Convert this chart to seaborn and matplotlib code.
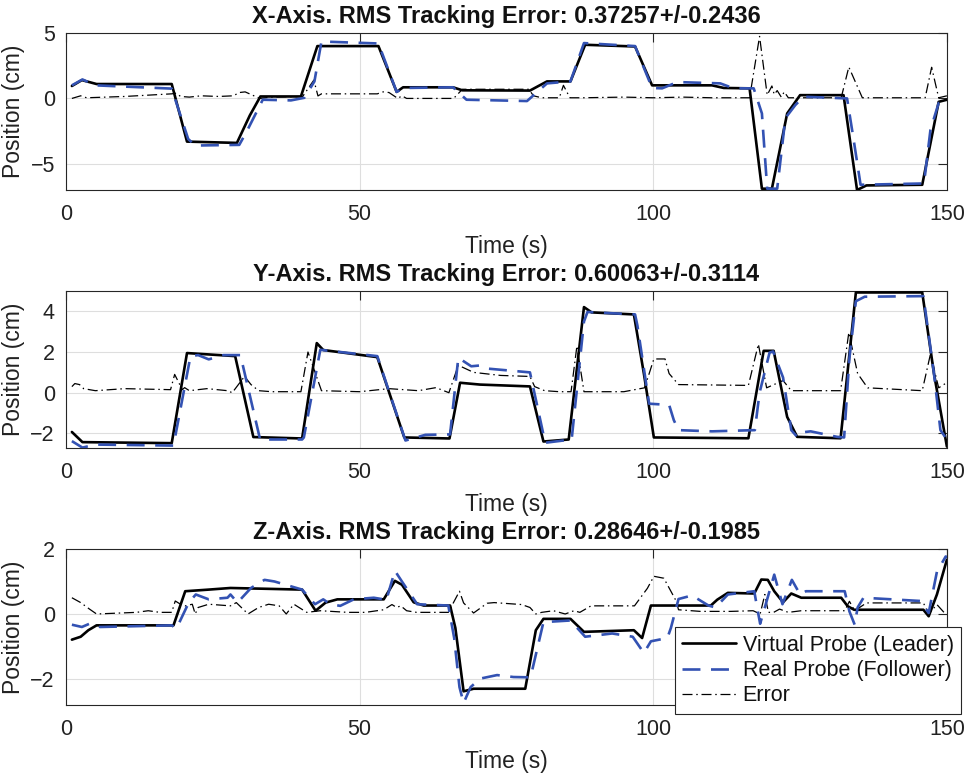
import numpy as np
import pandas as pd
import matplotlib
matplotlib.use("Agg")
import matplotlib.pyplot as plt
import seaborn as sns

# ---------------- data ----------------
x_lead_t = [1, 2.7, 5.2, 18.0, 20.6, 29.1, 31.3, 33.1, 40.0, 42.8, 53.2, 56.3, 57.4, 65.9, 67.5, 79.0, 81.9, 85.9,
            88.4, 96.9, 99.8, 110.0, 112.0, 116.4, 118.5, 120.2, 122.8, 125.0, 132.4, 134.7, 136.3, 145.8, 148.6, 150]
x_lead = [0.95, 1.4, 1.1, 1.1, -3.3, -3.4, -1.3, 0.15, 0.15, 4.0, 4.0, 0.5, 0.85, 0.85, 0.62, 0.6, 1.3, 1.3,
          4.1, 3.97, 1.0, 1.0, 0.8, 0.77, -6.9, -6.9, -1.15, 0.25, 0.25, -7.0, -6.65, -6.6, -0.26, -0.1]

x_fol_t = [1, 2.8, 5.0, 18.0, 20.8, 22.0, 29.5, 30.8, 33.5, 38.3, 40.6, 42.3, 43.5, 53.2, 56.3, 57.6, 65.9, 68.2,
           78.5, 81.9, 85.9, 88.2, 96.9, 99.8, 101.5, 104.1, 111.4, 113.7, 117.1, 118.5, 119.4, 121.1, 122.5,
           124.2, 125.6, 133.0, 134.1, 135.3, 146.1, 147.2, 148.6, 150]
x_fol = [1.0, 1.45, 1.0, 0.75, -3.1, -3.6, -3.55, -2.5, -0.1, -0.15, 0.05, 1.3, 4.35, 4.2, 0.5, 0.8, 0.85, -0.1,
         -0.2, 1.15, 1.3, 4.23, 4.0, 0.8, 0.77, 1.25, 1.15, 0.77, 0.77, -1.15, -6.9, -6.9, -1.5,
         -0.5, 0.13, 0.0, -3.1, -6.6, -6.5, -2.4, -0.35, -0.3]

x_err_t = [1, 2.5, 3.5, 10, 18, 18.8, 19.5, 21, 23, 26, 28.5, 29.5, 30.5, 32, 33, 35, 40.3, 42.2, 42.9, 43.5, 53,
           54, 55, 56.5, 57.2, 58, 59, 66, 67.5, 78.8, 79.6, 81, 84.0, 84.7, 85.8, 88, 95, 100, 105, 110, 116.4,
           118.1, 119.4, 120.2, 120.6, 121.1, 121.8, 122.3, 123.0, 125, 132.0, 133.3, 135.6, 146.3, 147.4,
           148.6, 150]
x_err = [0.0, 0.2, 0.05, 0.15, 0.35, 0.4, 0.15, 0.1, 0.2, 0.15, 0.2, 0.45, 0.5, 0.2, 0.0, 0.1, 0.15, 1.4, 0.19,
         0.35, 0.35, 0.5, 0.45, 0.0, 0.2, 0.0, 0.0, 0.0, 0.7, 0.7, 0.2, 0.05, 0.05, 1.0, 0.05, 0.05, 0.1, 0.05,
         0.1, 0.05, 0.05, 4.74, 0.26, 0.95, 0.3, 0.6, 0.1, 0.5, 0.05, 0.05, 0.05, 2.4, 0.05, 0.05, 2.38,
         0.05, 0.2]

y_lead_t = [1, 2.8, 18.0, 20.6, 28.8, 31.9, 40.2, 42.7, 43.8, 53.0, 57.6, 65.3, 67.1, 70.5, 79.0, 81.3, 85.6,
            88.2, 89.5, 96.7, 98.4, 100.1, 116.2, 118.8, 120.5, 122.8, 124.5, 131.9, 134.5, 145.8, 147.8, 150]
y_lead = [-1.93, -2.43, -2.48, 1.95, 1.8, -2.18, -2.25, 2.44, 2.1, 1.75, -2.2, -2.25, 0.49, 0.4, 0.31, -2.4,
          -2.3, 4.21, 3.95, 3.85, 0.94, -2.2, -2.24, 2.06, 2.06, -1.19, -2.17, -2.24, 4.93, 4.93, 0.94, -2.65]

y_fol_t = [1, 2.8, 5.0, 18.3, 21.2, 22.5, 24.3, 26.8, 29.7, 33.05, 40.2, 40.5, 43.3, 53.0, 57.8, 61.2, 65.4,
           66.8, 69.0, 70.5, 72.0, 79.0, 81.6, 86.1, 88.2, 88.8, 96.9, 97.3, 99.3, 102.7, 103.5, 104.3, 110,
           117.3, 118.1, 119.8, 120.4, 122.1, 123.5, 124.5, 125.3, 126.8, 131.3, 132.5, 133.4, 134.5, 136.0,
           146.0, 147.8, 148.9, 150]
y_fol = [-2.38, -2.7, -2.55, -2.6, 1.8, 1.85, 1.64, 1.85, 1.85, -2.3, -2.3, -2.2, 2.11, 1.8, -2.35, -2.07, -2.05,
         1.72, 1.3, 1.34, 1.18, 1.0, -2.46, -2.3, 3.5, 3.97, 3.85, 3.3, -0.54, -0.6, -1.35, -1.84, -1.9,
         -1.84, 0.0, 1.97, 2.03, 0.75, -1.84, -2.17, -1.95, -1.9, -2.17, -2.2, 1.7, 4.5, 4.72,
         4.75, 0.94, -1.84, -2.3]

y_err_t = [1, 1.5, 2.3, 3.0, 5.0, 10, 17.8, 18.5, 19.8, 20.2, 21.0, 24, 27.5, 28.3, 30.4, 31.5, 32.8, 35, 40.0,
           41.2, 43.5, 50, 55, 60, 63, 65.2, 66.8, 69.4, 74, 79.0, 79.8, 81.5, 84, 86.0, 87.0, 88.2, 95, 98.5,
           99.1, 100.1, 102.0, 102.7, 104.3, 116.2, 117.9, 119.3, 122.1, 123.5, 125, 131.9, 133.3, 134.8,
           136.5, 145.8, 147.2, 148.6, 150]
y_err = [0.3, 0.45, 0.4, 0.2, 0.1, 0.2, 0.15, 0.9, 0.15, 0.25, 0.1, 0.2, 0.1, 0.0, 0.8, 0.4, 0.1, 0.05, 0.05,
         2.0, 0.1, 0.05, 0.2, 0.1, 0.25, 0.0, 1.35, 1.0, 0.85, 0.8, 0.3, 0.1, 0.05, 0.05, 2.3, 0.05, 0.05, 0.24,
         0.76, 1.66, 1.66, 0.94, 0.4, 0.36, 2.39, 0.24, 0.6, 0.1, 0.1, 0.1, 2.96, 0.94,
         0.24, 0.1, 1.9, 0.24, 0.5]

z_lead_t = [1, 2.5, 3.8, 5.2, 18.3, 20.3, 24.3, 28.0, 40.2, 42.5, 44.2, 46.2, 54.1, 56.0, 57.2, 59.2, 60.9, 65.4,
            66.3, 67.7, 69.4, 78.2, 80.0, 81.3, 85.9, 88.2, 96.7, 98.1, 99.6, 109.8, 110.9, 112.7, 117.2, 118.4,
            119.5, 120.6, 122.1, 123.5, 125.2, 132.0, 133.1, 134.2, 146.0, 146.9, 148.3, 150]
z_lead = [-0.79, -0.7, -0.5, -0.35, -0.35, 0.7, 0.75, 0.8, 0.75, 0.1, 0.35, 0.45, 0.45, 1.02, 0.9, 0.36, 0.26,
          0.26, -0.43, -2.38, -2.3, -2.3, -0.5, -0.15, -0.15, -0.55, -0.5, -0.74, 0.26, 0.26, 0.44, 0.65, 0.63,
          1.06, 1.05, 0.7, 0.36, 0.63, 0.5, 0.5, 0.24, 0.13, 0.13, -0.07, 0.6, 1.67]

z_fol_t = [1, 2.7, 4.0, 5.8, 18.0, 18.8, 20.9, 22.1, 24.3, 27.5, 28.0, 29.2, 31.5, 33.8, 35.5, 40.2, 42.4, 43.8,
           45.0, 46.7, 49.0, 52.4, 54.1, 54.5, 56.0, 57.2, 59.8, 65.1, 66.1, 67.0, 67.7, 68.9, 70.5, 73.4, 76.2,
           79.1, 81.3, 85.9, 88.4, 93.0, 96.5, 98.4, 99.6, 102.4, 103.0, 104.3, 106.6, 109.4, 110.6, 112.7,
           117.2, 117.7, 118.2, 120.6, 122.0, 123.6, 125.0, 126, 132.6, 133.4, 134.3, 134.8, 135.8, 145.5,
           146.9, 148.3, 149.8, 150]
z_fol = [-0.33, -0.4, -0.3, -0.4, -0.35, -0.45, 0.35, 0.6, 0.45, 0.5, 0.6, 0.35, 0.8, 1.05, 1.0, 0.75, 0.3, 0.45,
         0.3, 0.25, 0.45, 0.5, 0.45, 0.4, 1.33, 1.0, 0.3, 0.26, -0.74, -2.25, -2.74, -2.25, -1.99, -1.88, -1.94,
         -1.95, -0.25, -0.2, -0.7, -0.6, -0.7, -1.2, -0.84, -0.74, -0.43, 0.46, 0.57, 0.26, 0.2, 0.6,
         0.7, 0.18, -0.3, 1.21, 0.3, 1.05, 0.6, 0.7, 0.7, 0.08, -0.33, 0.2, 0.5, 0.4,
         0.03, 1.3, 1.77, 1.75]

z_err_t = [1, 2.5, 4.0, 5.2, 12, 14, 16, 18.0, 18.6, 19.5, 20.3, 21.5, 22.0, 22.5, 24.3, 28.0, 29.0, 31.0, 32.8,
           34.5, 36.3, 37.5, 38.8, 41.0, 43.3, 48, 51, 54.1, 55.5, 56.3, 57.0, 58.0, 59.7, 65.1, 67.0, 67.7, 69.4,
           71.7, 72.9, 77.6, 79.0, 80.0, 81.0, 83, 85, 86.5, 87.5, 89.4, 96.8, 99.0, 100.1, 101.8, 102.7, 103.9,
           104.3, 108.0, 113.2, 117.0, 118.2, 119.0, 119.6, 120.5, 121.5, 123.0, 125.2, 132.6, 133.4, 134.3,
           136.3, 146.0, 146.9, 148.3, 149.5, 150]
z_err = [0.5, 0.35, 0.15, 0.0, 0.05, 0.1, 0.05, 0.05, 0.4, 0.3, 0.25, 0.3, 0.0, 0.2, 0.3, 0.25, 0.35, 0.0, 0.2,
         0.3, 0.25, 0.0, 0.3, 0.05, 0.1, 0.05, 0.05, 0.13, 0.29, 0.2, 0.25, 0.1, 0.05, 0.05, 0.7, 0.34, 0.03,
         0.33, 0.35, 0.29, 0.2, 0.0, 0.05, 0.1, 0.0, 0.1, 0.05, 0.25, 0.25, 0.79, 1.16, 1.1, 0.8, 0.4,
         0.13, 0.08, 0.08, 0.1, 0.0, 0.6, 0.05, 0.05, 0.15, 0.05, 0.1, 0.1, 0.39, 0.1,
         0.34, 0.34, 0.0, 0.29, 0.05, 0.02]

titles = ["X-Axis. RMS Tracking Error: 0.37257+/-0.2436",
          "Y-Axis. RMS Tracking Error: 0.60063+/-0.3114",
          "Z-Axis. RMS Tracking Error: 0.28646+/-0.1985"]
series_labels = ["Virtual Probe (Leader)", "Real Probe (Follower)", "Error"]
x_ticks = [0, 50, 100, 150]
y_ticks = [[-5, 0, 5], [-2, 0, 2, 4], [-2, 0, 2]]
y_limits = [(-7, 5), (-2.72, 5), (-2.8, 2)]

# ---------------- style ----------------
sns.set_theme(style="white")
plt.rcParams['font.family'] = ['Liberation Sans', 'DejaVu Sans']
plt.rcParams['axes.edgecolor'] = '#262626'
plt.rcParams['axes.linewidth'] = 0.8
plt.rcParams['text.color'] = '#111111'

BLUE = '#3352b3'
DARK = '#262626'

fig = plt.figure(figsize=(9.68, 7.73), dpi=100)
positions = [[0.0682, 0.7542, 0.9100, 0.2031],
             [0.0682, 0.4204, 0.9100, 0.2031],
             [0.0682, 0.0880, 0.9100, 0.2018]]

datasets = [(x_lead_t, x_lead, x_fol_t, x_fol, x_err_t, x_err),
            (y_lead_t, y_lead, y_fol_t, y_fol, y_err_t, y_err),
            (z_lead_t, z_lead, z_fol_t, z_fol, z_err_t, z_err)]

axes = []
for i, (lt, lv, ft, fv, et, ev) in enumerate(datasets):
    ax = fig.add_axes(positions[i])
    axes.append(ax)
    lbl = (i == 2)
    sns.lineplot(x=et, y=ev, ax=ax, color='black', linewidth=0.9, errorbar=None,
                 linestyle=(0, (8, 3, 1.2, 3)), label=series_labels[2] if lbl else None, zorder=2)
    sns.lineplot(x=lt, y=lv, ax=ax, color='black', linewidth=1.9, errorbar=None,
                 label=series_labels[0] if lbl else None, zorder=3)
    sns.lineplot(x=ft, y=fv, ax=ax, color=BLUE, linewidth=1.9, errorbar=None,
                 linestyle=(0, (6.8, 4)), label=series_labels[1] if lbl else None, zorder=4)
    ax.set_xlim(0, 150)
    ax.set_ylim(*y_limits[i])
    ax.set_xticks(x_ticks)
    ax.set_yticks(y_ticks[i])
    ax.grid(True, color='#dedede', linewidth=0.8)
    ax.set_axisbelow(True)
    ax.tick_params(direction='in', length=6.5, width=0.8, top=True, right=True,
                   labelsize=15.5, colors=DARK, pad=8)
    ax.tick_params(axis='x', pad=10)
    ax.tick_params(labelcolor='#222222')
    for s in ax.spines.values():
        s.set_visible(True)
        s.set_color(DARK)
        s.set_linewidth(0.8)
    ax.set_title(titles[i], fontsize=17, fontweight='bold', pad=7, color='#111111')
    ax.set_xlabel("Time (s)", fontsize=16.5, labelpad=7, color='#222222')
    ax.set_ylabel("Position (cm)", fontsize=16.5, labelpad=4, color='#222222')

ax = axes[2]
h, l = ax.get_legend_handles_labels()
order = [l.index(s) for s in series_labels]
leg = ax.legend([h[k] for k in order], [l[k] for k in order],
                loc='lower right', bbox_to_anchor=(0.993, 0.0763), bbox_transform=fig.transFigure,
                borderaxespad=0, fontsize=15.5, frameon=True, fancybox=False, framealpha=1,
                edgecolor=DARK, handlelength=2.5, handletextpad=0.3, borderpad=0.35, labelspacing=0.2)
leg.get_frame().set_linewidth(0.8)
leg.set_zorder(10)

fig.savefig("out.png", dpi=100)
